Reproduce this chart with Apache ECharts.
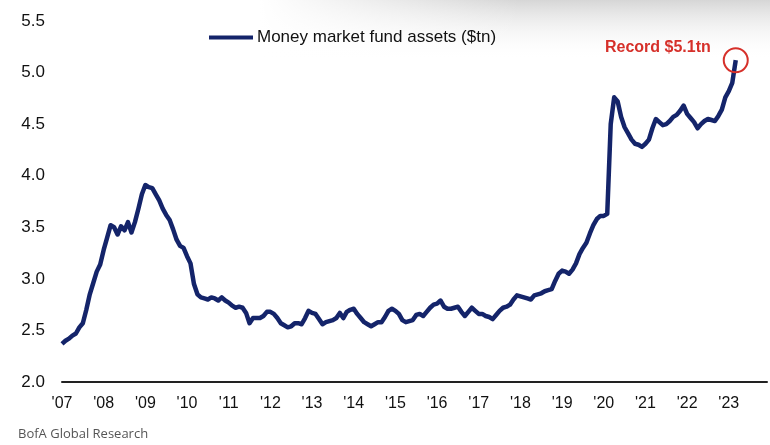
<!DOCTYPE html>
<html>
<head>
<meta charset="utf-8">
<script src="https://cdn.jsdelivr.net/npm/echarts@6/dist/echarts.min.js"></script>
<style>
  html, body { margin: 0; padding: 0; background: #fff; }
  #chart { width: 770px; height: 445px; }
</style>
</head>
<body>
<div id="chart"></div>
<script>
// months since Jan 2007, one value per month ($tn)
const seriesName = 'Money market fund assets ($tn)';
const yearLabels = ['07', '08', '09', '10', '11', '12', '13', '14', '15', '16', '17', '18', '19', '20', '21', '22', '23'];
const assets = [
  2.37, 2.40, 2.42, 2.45, 2.47, 2.53, 2.57, 2.70, 2.85, 2.96, 3.07, 3.14, // 2007
  3.28, 3.40, 3.52, 3.50, 3.43, 3.51, 3.47, 3.55, 3.45, 3.55, 3.68, 3.82, // 2008
  3.91, 3.89, 3.88, 3.82, 3.76, 3.68, 3.62, 3.57, 3.48, 3.38, 3.32, 3.30, // 2009
  3.22, 3.15, 2.95, 2.85, 2.82, 2.81, 2.80, 2.82, 2.81, 2.79, 2.82, 2.79, // 2010
  2.77, 2.74, 2.72, 2.73, 2.72, 2.67, 2.57, 2.62, 2.62, 2.62, 2.64, 2.68, // 2011
  2.68, 2.66, 2.62, 2.57, 2.55, 2.53, 2.54, 2.57, 2.57, 2.56, 2.62, 2.69, // 2012
  2.67, 2.66, 2.61, 2.56, 2.58, 2.59, 2.60, 2.62, 2.67, 2.62, 2.68, 2.70, // 2013
  2.71, 2.66, 2.62, 2.58, 2.56, 2.54, 2.56, 2.58, 2.58, 2.63, 2.69, 2.71, // 2014
  2.69, 2.66, 2.60, 2.58, 2.59, 2.60, 2.65, 2.66, 2.64, 2.68, 2.72, 2.75, // 2015
  2.76, 2.79, 2.73, 2.71, 2.71, 2.72, 2.73, 2.68, 2.64, 2.68, 2.72, 2.69, // 2016
  2.66, 2.66, 2.64, 2.63, 2.61, 2.65, 2.69, 2.72, 2.73, 2.75, 2.80, 2.84, // 2017
  2.83, 2.82, 2.81, 2.80, 2.84, 2.85, 2.86, 2.88, 2.89, 2.90, 2.98, 3.05, // 2018
  3.08, 3.07, 3.05, 3.09, 3.15, 3.24, 3.30, 3.35, 3.44, 3.52, 3.58, 3.61, // 2019
  3.61, 3.63, 4.50, 4.76, 4.72, 4.57, 4.47, 4.41, 4.35, 4.31, 4.30, 4.28, // 2020
  4.31, 4.35, 4.46, 4.55, 4.52, 4.49, 4.50, 4.53, 4.57, 4.59, 4.63, 4.68, // 2021
  4.60, 4.56, 4.52, 4.46, 4.50, 4.53, 4.55, 4.54, 4.53, 4.58, 4.64, 4.76, // 2022
  4.82, 4.90, 5.12                                                         // 2023
];
const recordLabel = 'Record $5.1tn';
const sourceText = 'BofA Global Research';

const chart = echarts.init(document.getElementById('chart'));
const lastIdx = assets.length - 1;

chart.setOption({
  animation: false,
  backgroundColor: '#fff',
  graphic: [
    {
      type: 'rect', z: -10, silent: true,
      shape: { x: 260, y: 0, width: 510, height: 60 },
      style: {
        fill: new echarts.graphic.LinearGradient(0, 0, 0, 1, [
          { offset: 0, color: 'rgba(214,214,214,1)' },
          { offset: 1, color: 'rgba(255,255,255,0)' }
        ])
      }
    },
    {
      type: 'rect', z: -9, silent: true,
      shape: { x: 260, y: 0, width: 260, height: 60 },
      style: {
        fill: new echarts.graphic.LinearGradient(0, 0, 1, 0, [
          { offset: 0, color: 'rgba(255,255,255,1)' },
          { offset: 1, color: 'rgba(255,255,255,0)' }
        ])
      }
    },
    {
      type: 'text', left: 18, top: 428,
      style: { text: sourceText, fill: '#555', font: '13px "Open Sans"' }
    }
  ],
  legend: {
    left: 209, top: 29,
    padding: 0,
    icon: 'rect',
    itemWidth: 44, itemHeight: 4, itemGap: 10,
    textStyle: { fontFamily: 'Liberation Sans', fontSize: 17, color: '#111', padding: [0, 0, 0, -1] },
    data: [seriesName]
  },
  grid: { left: 62, right: 3, top: 21, bottom: 63 },
  xAxis: {
    type: 'value',
    min: 0, max: 203, interval: 12,
    axisLine: { show: true, onZero: false, lineStyle: { color: '#222', width: 2 } },
    axisTick: { show: false },
    splitLine: { show: false },
    axisLabel: {
      margin: 14,
      fontFamily: 'Liberation Sans', fontSize: 16, color: '#111',
      formatter: v => (v % 12 === 0 ? "'" + yearLabels[v / 12] : '')
    }
  },
  yAxis: {
    type: 'value',
    min: 2, max: 5.5, interval: 0.5,
    axisLine: { show: false },
    axisTick: { show: false },
    splitLine: { show: false },
    axisLabel: {
      margin: 17,
      fontFamily: 'Liberation Sans', fontSize: 17, color: '#111',
      formatter: v => v.toFixed(1)
    }
  },
  series: [{
    name: seriesName,
    type: 'line',
    data: assets.map((v, i) => [i, v]),
    showSymbol: false,
    symbol: 'none',
    lineStyle: { color: '#14246a', width: 4.5, join: 'round' },
    itemStyle: { color: '#14246a' },
    markPoint: {
      silent: true,
      data: [{
        coord: [lastIdx, assets[lastIdx]],
        symbol: 'circle',
        symbolSize: 24,
        itemStyle: { color: 'rgba(0,0,0,0)', borderColor: '#d6302a', borderWidth: 2 },
        label: {
          show: true,
          position: 'left',
          distance: 12,
          offset: [0, -13],
          formatter: recordLabel,
          color: '#d6302a',
          fontFamily: 'Liberation Sans',
          fontWeight: 'bold',
          fontSize: 16
        }
      }]
    }
  }]
});
</script>
</body>
</html>
